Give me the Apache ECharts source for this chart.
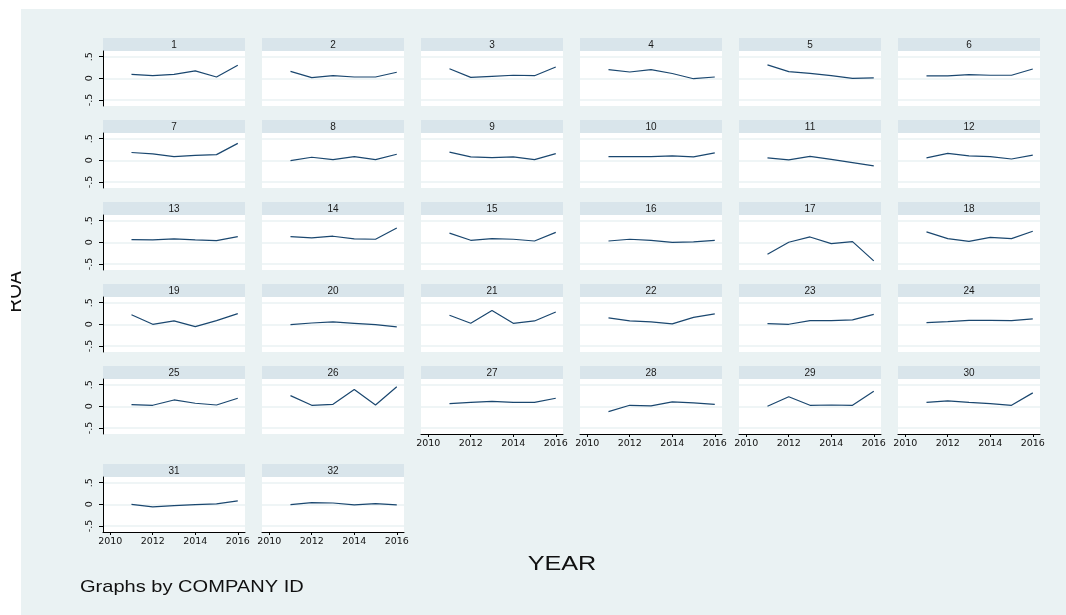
<!DOCTYPE html>
<html><head><meta charset="utf-8">
<script src="https://cdn.jsdelivr.net/npm/echarts@6/dist/echarts.min.js"></script>
<style>html,body{margin:0;padding:0;background:#fff}#c{width:1066px;height:615px}</style>
</head><body><div id="c"></div>
<script>
// ---------------- DATA ----------------
const years = [2011, 2012, 2013, 2014, 2015, 2016];
const xTickValues = [2010, 2012, 2014, 2016];
const yTickValues = [-0.5, 0, 0.5];
const yTickLabels = ['-.5', '0', '.5'];
const companyIds = ['1','2','3','4','5','6','7','8','9','10','11','12','13','14','15','16',
  '17','18','19','20','21','22','23','24','25','26','27','28','29','30','31','32'];
const yTitle = 'ROA';
const xTitle = 'YEAR';
const note = 'Graphs by COMPANY ID';

const roa01 = [0.09, 0.06, 0.09, 0.17, 0.03, 0.30];
const roa02 = [0.16, 0.015, 0.06, 0.03, 0.03, 0.14];
const roa03 = [0.22, 0.02, 0.045, 0.07, 0.06, 0.26];
const roa04 = [0.20, 0.145, 0.20, 0.11, -0.01, 0.03];
const roa05 = [0.31, 0.155, 0.115, 0.06, 0.0, 0.01];
const roa06 = [0.055, 0.055, 0.085, 0.07, 0.07, 0.215];
const roa07 = [0.18, 0.15, 0.085, 0.115, 0.13, 0.39];
const roa08 = [-0.01, 0.07, 0.015, 0.085, 0.015, 0.14];
const roa09 = [0.19, 0.077, 0.06, 0.077, 0.015, 0.155];
const roa10 = [0.085, 0.085, 0.085, 0.10, 0.077, 0.17];
const roa11 = [0.054, 0.008, 0.09, 0.02, -0.054, -0.13];
const roa12 = [0.054, 0.16, 0.10, 0.085, 0.03, 0.12];
const roa13 = [0.06, 0.054, 0.077, 0.054, 0.04, 0.13];
const roa14 = [0.13, 0.10, 0.14, 0.077, 0.07, 0.33];
const roa15 = [0.21, 0.046, 0.085, 0.07, 0.03, 0.23];
const roa16 = [0.03, 0.07, 0.046, 0.0, 0.008, 0.046];
const roa17 = [-0.277, 0.0, 0.123, -0.03, 0.015, -0.43];
const roa18 = [0.24, 0.085, 0.023, 0.115, 0.085, 0.254];
const roa19 = [0.22, 0.0, 0.077, -0.054, 0.085, 0.245];
const roa20 = [-0.008, 0.03, 0.054, 0.023, -0.008, -0.06];
const roa21 = [0.21, 0.023, 0.32, 0.023, 0.077, 0.285];
const roa22 = [0.146, 0.077, 0.054, 0.008, 0.16, 0.24];
const roa23 = [0.015, 0.0, 0.085, 0.085, 0.10, 0.23];
const roa24 = [0.038, 0.06, 0.09, 0.09, 0.085, 0.123];
const roa25 = [0.04, 0.023, 0.146, 0.07, 0.03, 0.185];
const roa26 = [0.246, 0.023, 0.046, 0.385, 0.03, 0.45];
const roa27 = [0.06, 0.09, 0.115, 0.09, 0.09, 0.185];
const roa28 = [-0.123, 0.023, 0.008, 0.10, 0.077, 0.046];
const roa29 = [0.0, 0.22, 0.023, 0.03, 0.023, 0.346];
const roa30 = [0.09, 0.123, 0.09, 0.06, 0.023, 0.31];
const roa31 = [0.0, -0.06, -0.03, -0.008, 0.008, 0.077];
const roa32 = [-0.008, 0.038, 0.03, -0.015, 0.015, -0.015];

const roaSeries = [roa01, roa02, roa03, roa04, roa05, roa06, roa07, roa08, roa09, roa10,
  roa11, roa12, roa13, roa14, roa15, roa16, roa17, roa18, roa19, roa20, roa21, roa22,
  roa23, roa24, roa25, roa26, roa27, roa28, roa29, roa30, roa31, roa32];

// ---------------- LAYOUT / STYLE ----------------
const NCOL = 6;
const colLeft = 103, colPitch = 159, plotW = 142, plotH = 55, headH = 13;
const rowTops = [51, 133, 215, 297, 379, 477];
const xMin = 2009.66, xMax = 2016.34;
const yMin = -0.64, yMax = 0.63;
const bgColor = '#EAF2F3', stripColor = '#D9E5EB', lineColor = '#1a476f';
const axisFont = 'DejaVu Sans';
const textFont = 'Liberation Sans, Arial, sans-serif';

const grids = [], xAxes = [], yAxes = [], series = [], graphics = [];

graphics.push({type: 'rect', shape: {x: 0, y: 0, width: 1066, height: 9}, style: {fill: '#fff'}, silent: true});
graphics.push({type: 'rect', shape: {x: 0, y: 0, width: 21, height: 615}, style: {fill: '#fff'}, silent: true});

roaSeries.forEach((vals, i) => {
  const col = i % NCOL, row = Math.floor(i / NCOL);
  const left = colLeft + col * colPitch;
  const top = rowTops[row];
  const showX = (i + NCOL) >= roaSeries.length;
  const showY = col === 0;
  grids.push({left: left, top: top, width: plotW, height: plotH, show: true,
    backgroundColor: '#fff', borderWidth: 0, containLabel: false});
  xAxes.push({
    gridIndex: i, type: 'value', min: xMin, max: xMax,
    axisLine: {show: showX, onZero: false, lineStyle: {color: '#000', width: 1}},
    axisTick: {show: showX, length: 3, customValues: xTickValues, lineStyle: {color: '#000'}},
    axisLabel: {show: showX, customValues: xTickValues, fontSize: 9.5, fontFamily: axisFont,
      color: '#111', margin: 5, formatter: v => String(v)},
    splitLine: {show: false}
  });
  yAxes.push({
    gridIndex: i, type: 'value', min: yMin, max: yMax,
    axisLine: {show: showY, onZero: false, lineStyle: {color: '#000', width: 1}},
    axisTick: {show: showY, length: 4, customValues: yTickValues, lineStyle: {color: '#000'}},
    axisLabel: {show: showY, customValues: yTickValues, rotate: 90, fontSize: 9.5,
      fontFamily: axisFont, color: '#111', margin: 8,
      formatter: v => { const k = yTickValues.findIndex(t => Math.abs(t - v) < 1e-9); return k >= 0 ? yTickLabels[k] : ''; }},
    splitLine: {show: true, lineStyle: {color: bgColor, width: 1.5}}
  });
  series.push({
    type: 'line', xAxisIndex: i, yAxisIndex: i, symbol: 'none', silent: true,
    data: years.map((y, k) => [y, vals[k]]),
    lineStyle: {color: lineColor, width: 1.2}
  });
  graphics.push({type: 'rect', shape: {x: left, y: top - headH, width: plotW, height: headH},
    style: {fill: stripColor}, silent: true});
  graphics.push({type: 'text', x: left + plotW / 2, y: top - headH / 2 + 0.5, silent: true,
    style: {text: companyIds[i], fill: '#1a1a1a', font: '10px ' + textFont,
      textAlign: 'center', textVerticalAlign: 'middle'}});
});

// titles
graphics.push({type: 'text', x: 26, y: 292, rotation: Math.PI / 2, scaleY: 1.2, silent: true, z: 50,
  style: {text: yTitle, fill: '#111', font: '19px ' + textFont, textAlign: 'center', textVerticalAlign: 'bottom'}});
graphics.push({type: 'rect', shape: {x: 0, y: 255, width: 11, height: 75}, style: {fill: '#fff'}, silent: true, z: 60});
graphics.push({type: 'text', x: 562, y: 564, scaleX: 1.2, silent: true, originX: 0,
  style: {text: xTitle, fill: '#111', font: '21px ' + textFont, textAlign: 'center', textVerticalAlign: 'middle'}});
graphics.push({type: 'text', x: 80, y: 587, scaleX: 1.18, silent: true,
  style: {text: note, fill: '#111', font: '17px ' + textFont, textAlign: 'left', textVerticalAlign: 'middle'}});

const chart = echarts.init(document.getElementById('c'), null, {renderer: 'canvas'});
chart.setOption({
  animation: false,
  backgroundColor: bgColor,
  grid: grids, xAxis: xAxes, yAxis: yAxes, series: series,
  graphic: {elements: graphics}
});
</script></body></html>
